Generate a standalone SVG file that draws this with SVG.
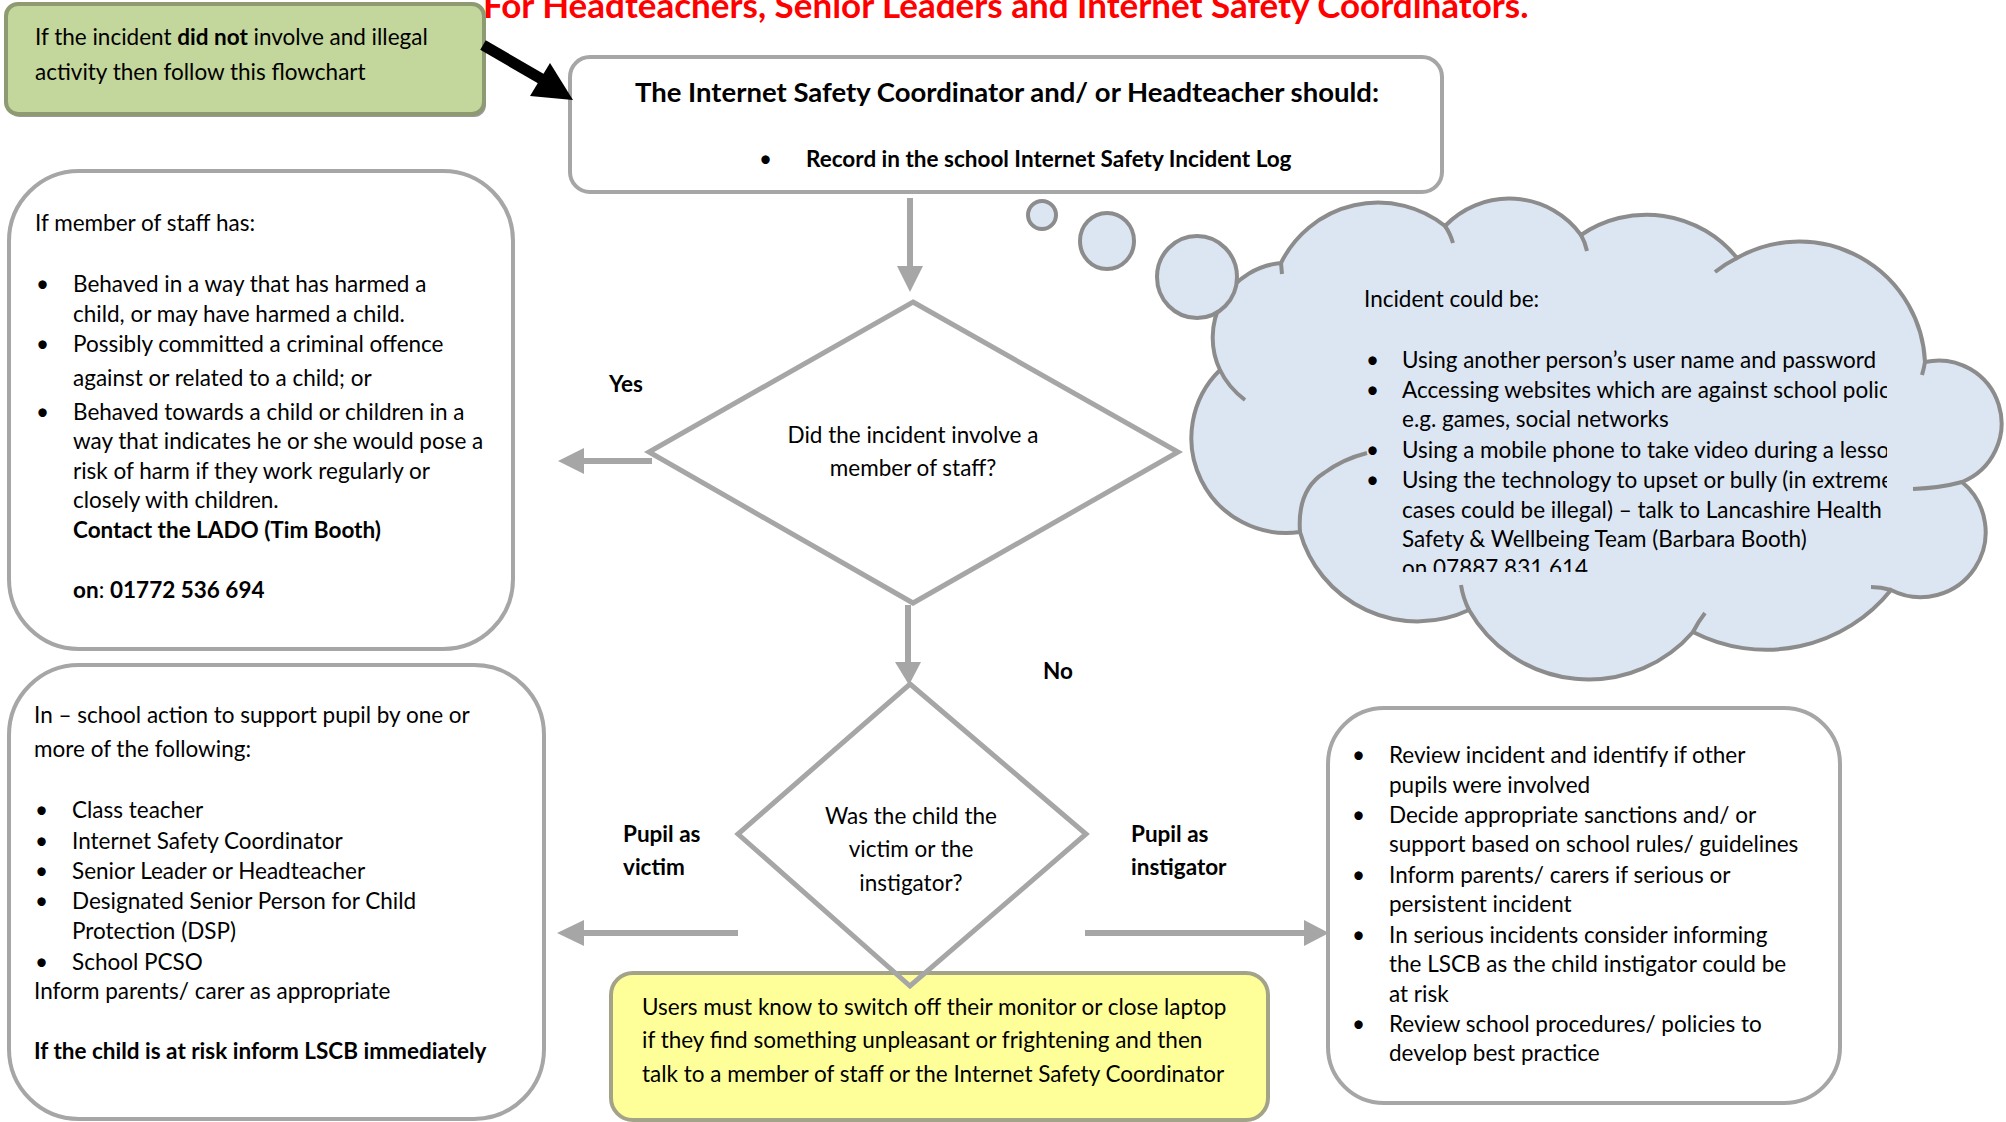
<svg xmlns="http://www.w3.org/2000/svg" width="2006" height="1122" viewBox="0 0 2006 1122">
<style>
.t{font-family:Lato,"Open Sans",sans-serif;font-size:22.5px;fill:#000}
.b{font-weight:bold}
.box{fill:#fff;stroke:#a6a6a6;stroke-width:4}
.dia{stroke:#a6a6a6;stroke-width:5;stroke-linejoin:miter}
.con{stroke:#a6a6a6;stroke-width:6;fill:none}
.head{fill:#a6a6a6}
.cl{fill:#dce6f2;stroke:#8c8c8c;stroke-width:4}
.tick{fill:none;stroke:#8c8c8c;stroke-width:4}
</style>
<defs>
<clipPath id="cloudclip"><rect x="1340" y="270" width="547" height="302"/></clipPath>
</defs>
<rect width="2006" height="1122" fill="#fff"/>

<text class="t b" x="483" y="18" style="font-size:35px;fill:#ff0000">For Headteachers, Senior Leaders and Internet Safety Coordinators.</text>

<g id="start-note">
<rect x="8" y="7" width="478" height="110" rx="12" fill="#9a9a9a"/>
<rect x="6" y="4" width="478" height="110" rx="12" fill="#c3d69b" stroke="#8e9a72" stroke-width="4"/>
<text class="t" x="35" y="45">If the incident <tspan class="b">did not</tspan> involve and illegal</text>
<text class="t" x="35" y="80">activity then follow this flowchart</text>
</g>

<g id="coordinator">
<rect class="box" x="570" y="57" width="872" height="135" rx="20"/>
<text class="t b" x="1007" y="102" text-anchor="middle" style="font-size:27.5px">The Internet Safety Coordinator and/ or Headteacher should:</text>
<text class="t" x="759" y="167">•</text>
<text class="t b" x="806" y="167">Record in the school Internet Safety Incident Log</text>
</g>

<g id="staff-box">
<rect class="box" x="9" y="171" width="504" height="478" rx="70"/>
<text class="t" x="35" y="231">If member of staff has:</text>
<text class="t" x="36" y="292">•</text>
<text class="t" x="73" y="292">Behaved in a way that has harmed a</text>
<text class="t" x="73" y="322">child, or may have harmed a child.</text>
<text class="t" x="36" y="352">•</text>
<text class="t" x="73" y="352">Possibly committed a criminal offence</text>
<text class="t" x="73" y="386">against or related to a child; or</text>
<text class="t" x="36" y="420">•</text>
<text class="t" x="73" y="420">Behaved towards a child or children in a</text>
<text class="t" x="73" y="449">way that indicates he or she would pose a</text>
<text class="t" x="73" y="479">risk of harm if they work regularly or</text>
<text class="t" x="73" y="508">closely with children.</text>
<text class="t b" x="73" y="538">Contact the LADO (Tim Booth)</text>
<text class="t" x="73" y="598"><tspan class="b">on</tspan>: <tspan class="b">01772 536 694</tspan></text>
</g>

<g id="q-staff">
<polygon class="dia" points="913,302 1178,452 913,603 649,452" fill="#fff"/>
<text class="t" x="913" y="443" text-anchor="middle">Did the incident involve a</text>
<text class="t" x="913" y="476" text-anchor="middle">member of staff?</text>
</g>

<g id="cloud">
<path class="cl" d="M1281,263 A108,108 0 0 1 1445,226 A89,89 0 0 1 1581,235 A116,116 0 0 1 1737,258 A126,126 0 0 1 1925,362 A63,63 0 0 1 1962,482 A65,65 0 0 1 1891,590 A160,160 0 0 1 1693,632 A138,138 0 0 1 1469,610 A122,122 0 0 1 1300,532 A95,95 0 0 1 1220,370 A75,75 0 0 1 1281,263 Z"/>
<path class="tick" d="M1281,263 L1282,274"/>
<path class="tick" d="M1445,226 Q1450,233 1453,243"/>
<path class="tick" d="M1581,235 Q1585,242 1587,251"/>
<path class="tick" d="M1737,258 Q1725,264 1715,272"/>
<path class="tick" d="M1925,362 Q1924,368 1922,375"/>
<path class="tick" d="M1962,482 Q1940,488 1913,489"/>
<path class="tick" d="M1891,590 Q1881,587 1871,587"/>
<path class="tick" d="M1693,632 Q1698,622 1705,613"/>
<path class="tick" d="M1469,610 Q1463,598 1461,585"/>
<path class="tick" d="M1300,532 Q1297,490 1324,473 Q1343,459 1367,453"/>
<path class="tick" d="M1220,370 Q1228,387 1245,400"/>
<ellipse class="cl" cx="1197" cy="277" rx="40" ry="41"/>
<ellipse class="cl" cx="1107" cy="241" rx="27" ry="28"/>
<ellipse class="cl" cx="1042" cy="215" rx="14" ry="14"/>
<g clip-path="url(#cloudclip)">
<text class="t" x="1364" y="307">Incident could be:</text>
<text class="t" x="1366" y="368">•</text>
<text class="t" x="1402" y="368">Using another person’s user name and password</text>
<text class="t" x="1366" y="398">•</text>
<text class="t" x="1402" y="398">Accessing websites which are against school policy</text>
<text class="t" x="1402" y="427">e.g. games, social networks</text>
<text class="t" x="1366" y="458">•</text>
<text class="t" x="1402" y="458">Using a mobile phone to take video during  a lesson</text>
<text class="t" x="1366" y="488">•</text>
<text class="t" x="1402" y="488">Using the technology to upset or bully (in extreme</text>
<text class="t" x="1402" y="518">cases could be illegal) – talk to Lancashire  Health</text>
<text class="t" x="1402" y="547">Safety &amp; Wellbeing Team (Barbara Booth)</text>
<text class="t" x="1402" y="576">on 07887 831 614</text>
</g>
</g>

<g id="pupil-victim-box">
<rect class="box" x="9" y="665" width="535" height="454" rx="70"/>
<text class="t" x="34" y="723">In – school action to support pupil by one or</text>
<text class="t" x="34" y="757">more of the following:</text>
<text class="t" x="35" y="818">•</text>
<text class="t" x="72" y="818">Class teacher</text>
<text class="t" x="35" y="849">•</text>
<text class="t" x="72" y="849">Internet Safety Coordinator</text>
<text class="t" x="35" y="879">•</text>
<text class="t" x="72" y="879">Senior Leader or Headteacher</text>
<text class="t" x="35" y="909">•</text>
<text class="t" x="72" y="909">Designated Senior Person for Child</text>
<text class="t" x="72" y="939">Protection (DSP)</text>
<text class="t" x="35" y="970">•</text>
<text class="t" x="72" y="970">School PCSO</text>
<text class="t" x="34" y="999">Inform parents/ carer as appropriate</text>
<text class="t b" x="34" y="1059">If the child is at risk inform LSCB immediately</text>
</g>

<g id="users-note">
<rect x="611" y="973" width="657" height="147" rx="22" fill="#ffff99" stroke="#a3a38a" stroke-width="4"/>
<text class="t" x="642" y="1015">Users must know to switch off their monitor or close laptop</text>
<text class="t" x="642" y="1048">if they find something unpleasant or frightening and then</text>
<text class="t" x="642" y="1082">talk to a member of staff or the Internet Safety Coordinator</text>
</g>

<g id="q-child">
<polygon class="dia" points="910,684 1086,834 910,986 738,834" fill="none"/>
<text class="t" x="911" y="824" text-anchor="middle">Was the child the</text>
<text class="t" x="911" y="857" text-anchor="middle">victim or the</text>
<text class="t" x="911" y="891" text-anchor="middle">instigator?</text>
</g>

<g id="instigator-box">
<rect class="box" x="1328" y="708" width="512" height="395" rx="56"/>
<text class="t" x="1352" y="763">•</text>
<text class="t" x="1389" y="763">Review incident and identify if other</text>
<text class="t" x="1389" y="793">pupils were involved</text>
<text class="t" x="1352" y="823">•</text>
<text class="t" x="1389" y="823">Decide appropriate sanctions and/ or</text>
<text class="t" x="1389" y="852">support based on school rules/ guidelines</text>
<text class="t" x="1352" y="883">•</text>
<text class="t" x="1389" y="883">Inform parents/ carers if serious or</text>
<text class="t" x="1389" y="912">persistent incident</text>
<text class="t" x="1352" y="943">•</text>
<text class="t" x="1389" y="943">In serious incidents consider informing</text>
<text class="t" x="1389" y="972">the LSCB as the child instigator could be</text>
<text class="t" x="1389" y="1002">at risk</text>
<text class="t" x="1352" y="1032">•</text>
<text class="t" x="1389" y="1032">Review school procedures/ policies to</text>
<text class="t" x="1389" y="1061">develop best practice</text>
</g>

<g id="connectors">
<line x1="483" y1="45" x2="545" y2="81" stroke="#000" stroke-width="11"/>
<polygon points="573,100 530,96 550,63" fill="#000"/>
<line class="con" x1="910" y1="198" x2="910" y2="268"/>
<polygon class="head" points="897,266 923,266 910,292"/>
<line class="con" x1="652" y1="461" x2="582" y2="461"/>
<polygon class="head" points="584,448 584,474 558,461"/>
<line class="con" x1="908" y1="605" x2="908" y2="665"/>
<polygon class="head" points="895,662 921,662 909,685"/>
<line class="con" x1="738" y1="933" x2="582" y2="933"/>
<polygon class="head" points="584,920 584,946 557,933"/>
<line class="con" x1="1085" y1="933" x2="1306" y2="933"/>
<polygon class="head" points="1304,920 1304,946 1329,933"/>
</g>

<g id="labels">
<text class="t b" x="609" y="392">Yes</text>
<text class="t b" x="1043" y="679">No</text>
<text class="t b" x="623" y="842">Pupil as</text>
<text class="t b" x="623" y="875">victim</text>
<text class="t b" x="1131" y="842">Pupil as</text>
<text class="t b" x="1131" y="875">instigator</text>
</g>
</svg>
